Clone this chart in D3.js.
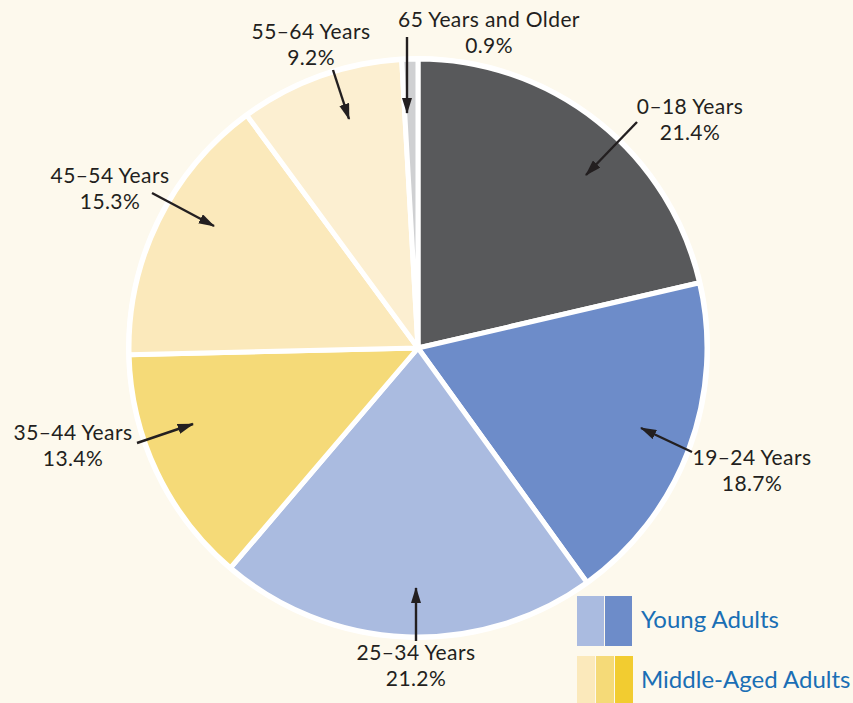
<!DOCTYPE html>
<html><head><meta charset="utf-8">
<script src="https://cdn.jsdelivr.net/npm/d3@7"></script>
<style>html,body{margin:0;padding:0;background:#fdf9ed;}svg{display:block;}</style>
</head><body>
<svg id="c" width="853" height="703"></svg>
<script>
const categories = ["0–18 Years","19–24 Years","25–34 Years","35–44 Years","45–54 Years","55–64 Years","65 Years and Older"];
const values = [21.4, 18.7, 21.2, 13.4, 15.3, 9.2, 0.9];
const valueLabels = ["21.4%","18.7%","21.2%","13.4%","15.3%","9.2%","0.9%"];
const colors = ["#58595b","#6d8cc9","#aabbe0","#f5da78","#fbe9bb","#fcefd1","#cfd0d2"];
const legendNames = ["Young Adults","Middle-Aged Adults"];
const legendColors = [["#aabbe0","#6d8cc9"],["#fbe9bb","#f5da78","#f2cc30"]];

// layout: label center/baseline and arrow tail/head
const layout = [
  {lx:690, ly:114, ax1:637, ay1:122, ax2:586, ay2:175},
  {lx:752, ly:465, ax1:692, ay1:452, ax2:641, ay2:428},
  {lx:416, ly:660, ax1:416, ay1:641, ax2:416, ay2:588},
  {lx:73,  ly:440, ax1:137, ay1:443, ax2:193, ay2:424},
  {lx:110, ly:183, ax1:152, ay1:193, ax2:214, ay2:226},
  {lx:311, ly:39,  ax1:333, ay1:70,  ax2:349, ay2:119},
  {lx:489, ly:27,  ax1:407, ay1:37,  ax2:407, ay2:113}
];

const svg = d3.select("#c");
const cx = 418, cy = 348, R = 289;

svg.append("defs").append("marker")
  .attr("id","ah").attr("viewBox","0 0 16 10").attr("refX",15).attr("refY",5)
  .attr("markerWidth",6.8).attr("markerHeight",4.3).attr("markerUnits","strokeWidth")
  .attr("orient","auto")
  .append("path").attr("d","M0,0 L16,5 L0,10 Z").attr("fill","#231f20");

const pie = d3.pie().sort(null).value(d => d);
const arc = d3.arc().innerRadius(0).outerRadius(R);
const g = svg.append("g").attr("transform",`translate(${cx},${cy})`);

g.append("circle").attr("r", R + 3).attr("fill","#ffffff");
g.selectAll("path.slice").data(pie(values)).join("path")
  .attr("class","slice")
  .attr("d", arc)
  .attr("fill", (d,i) => colors[i])
  .attr("stroke","#ffffff").attr("stroke-width",5).attr("stroke-linejoin","round");

const fontFam = "'Lato','Open Sans',sans-serif";
const lab = svg.append("g").attr("font-family", fontFam).attr("font-size", 21)
  .attr("letter-spacing", 0.4).attr("fill","#231f20").attr("text-anchor","middle");
layout.forEach((p,i) => {
  lab.append("text").attr("x",p.lx).attr("y",p.ly).text(categories[i]);
  lab.append("text").attr("x",p.lx).attr("y",p.ly+25.6).text(valueLabels[i]);
  svg.append("line").attr("x1",p.ax1).attr("y1",p.ay1).attr("x2",p.ax2).attr("y2",p.ay2)
    .attr("stroke","#231f20").attr("stroke-width",2.4).attr("marker-end","url(#ah)");
});

// legend
const lg = svg.append("g");
const rows = [{y:596, h:50}, {y:656, h:50}];
legendColors.forEach((cols, r) => {
  const w = cols.length === 2 ? 27 : 18;
  cols.forEach((c, j) => {
    lg.append("rect").attr("x", 577 + j*(w+1)).attr("y", rows[r].y).attr("width", w).attr("height", rows[r].h).attr("fill", c);
  });
  lg.append("text").attr("x", 641).attr("y", rows[r].y + 32)
    .attr("font-family", fontFam).attr("font-size", 24).attr("fill","#1a6fb5").text(legendNames[r]);
});
</script>
</body></html>
